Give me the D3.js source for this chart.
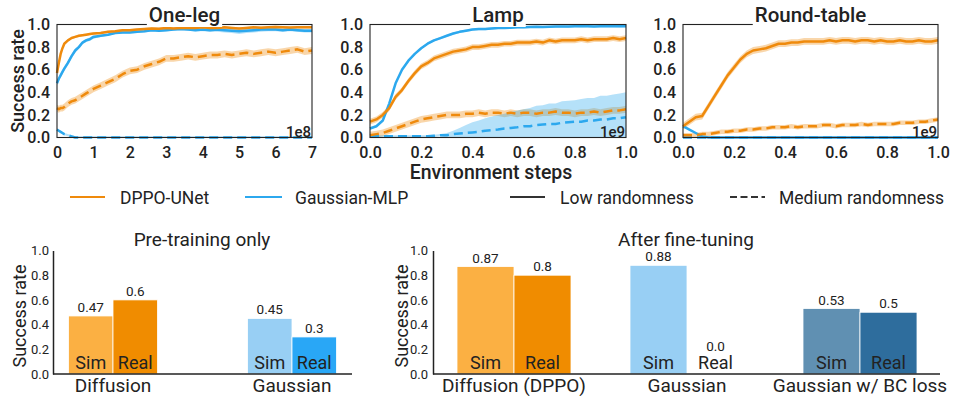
<!DOCTYPE html>
<html><head><meta charset="utf-8">
<script src="https://cdn.jsdelivr.net/npm/d3@7"></script>
<style>
body{margin:0;background:#fff}
text{font-family:Roboto,"Noto Sans",sans-serif;fill:#222}
</style>
</head><body>
<svg id="c" width="953" height="396"></svg>
<script>
// ---------------- DATA ----------------
// One-leg (x in units of 1e8 env steps)
const oneLegX = [0,0.05,0.1,0.15,0.2,0.3,0.4,0.5,0.6,0.7,0.8,0.9,1.0,1.2,1.4,1.6,1.8,2.0,2.2,2.4,2.6,2.8,3.0,3.2,3.4,3.6,3.8,4.0,4.2,4.4,4.6,4.8,5.0,5.2,5.4,5.6,5.8,6.0,6.2,6.4,6.6,6.8,7.0];
const oneLegDppoLow = [0.57,0.66,0.74,0.79,0.83,0.86,0.88,0.89,0.90,0.905,0.91,0.915,0.92,0.925,0.935,0.94,0.95,0.95,0.955,0.96,0.965,0.962,0.97,0.965,0.97,0.968,0.97,0.975,0.97,0.968,0.975,0.97,0.965,0.97,0.975,0.972,0.975,0.978,0.975,0.973,0.976,0.975,0.975];
const oneLegGaussLow = [0.48,0.52,0.55,0.58,0.61,0.66,0.72,0.77,0.80,0.84,0.86,0.87,0.89,0.90,0.91,0.925,0.93,0.93,0.935,0.94,0.95,0.945,0.95,0.955,0.96,0.955,0.95,0.955,0.95,0.955,0.95,0.945,0.94,0.945,0.95,0.955,0.955,0.955,0.95,0.955,0.95,0.945,0.945];
const oneLegGaussLowSpread = [0.02,0.02,0.02,0.02,0.02,0.02,0.02,0.02,0.015,0.015,0.015,0.015,0.015,0.01,0.01,0.01,0.01,0.01,0.01,0.01,0.01,0.01,0.01,0.01,0.01,0.01,0.01,0.015,0.015,0.02,0.02,0.02,0.025,0.02,0.02,0.02,0.015,0.015,0.015,0.015,0.015,0.015,0.015];
const oneLegDppoMed = [0.26,0.25,0.26,0.26,0.27,0.30,0.32,0.33,0.35,0.37,0.39,0.41,0.43,0.46,0.49,0.52,0.56,0.59,0.60,0.63,0.65,0.67,0.70,0.70,0.71,0.72,0.71,0.72,0.73,0.73,0.74,0.73,0.74,0.75,0.74,0.75,0.76,0.75,0.76,0.77,0.78,0.76,0.77];
const oneLegGaussMed = [0.07,0.06,0.05,0.04,0.03,0.02,0.01,0,0,0,0,0,0,0,0,0,0,0,0,0,0,0,0,0,0,0,0,0,0,0,0,0,0,0,0,0,0,0,0,0,0,0,0];

// Lamp and Round-table (x in units of 1e9 env steps)
const unitX = [0,0.025,0.05,0.075,0.1,0.125,0.15,0.175,0.2,0.225,0.25,0.275,0.3,0.325,0.35,0.375,0.4,0.425,0.45,0.475,0.5,0.525,0.55,0.575,0.6,0.625,0.65,0.675,0.7,0.725,0.75,0.775,0.8,0.825,0.85,0.875,0.9,0.925,0.95,0.975,1.0];
const lampGaussLow = [0.08,0.10,0.15,0.30,0.48,0.60,0.68,0.74,0.79,0.83,0.86,0.88,0.90,0.92,0.935,0.945,0.955,0.96,0.96,0.965,0.97,0.97,0.972,0.975,0.975,0.978,0.98,0.978,0.98,0.982,0.983,0.982,0.985,0.984,0.985,0.983,0.985,0.986,0.985,0.984,0.985];
const lampDppoLow = [0.14,0.16,0.20,0.26,0.36,0.42,0.50,0.57,0.63,0.66,0.70,0.72,0.74,0.76,0.77,0.78,0.80,0.80,0.81,0.82,0.82,0.83,0.83,0.84,0.84,0.84,0.85,0.84,0.86,0.85,0.86,0.86,0.86,0.87,0.86,0.87,0.87,0.87,0.88,0.87,0.88];
const lampDppoMed = [0.02,0.03,0.04,0.06,0.08,0.10,0.12,0.14,0.16,0.17,0.18,0.19,0.20,0.20,0.20,0.21,0.21,0.22,0.21,0.22,0.22,0.21,0.22,0.21,0.22,0.22,0.21,0.22,0.22,0.23,0.22,0.22,0.21,0.22,0.22,0.23,0.22,0.23,0.24,0.24,0.25];
const lampGaussMed = [0.01,0.01,0.01,0.01,0.01,0.01,0.01,0.01,0.01,0.01,0.015,0.02,0.02,0.03,0.035,0.04,0.045,0.05,0.06,0.065,0.07,0.08,0.085,0.09,0.10,0.10,0.11,0.115,0.12,0.12,0.13,0.135,0.14,0.14,0.15,0.15,0.16,0.16,0.17,0.17,0.18];
const lampGaussMedSpread = [0.01,0.01,0.01,0.01,0.01,0.01,0.01,0.01,0.01,0.01,0.01,0.01,0.02,0.03,0.05,0.07,0.09,0.10,0.11,0.12,0.13,0.13,0.14,0.15,0.15,0.16,0.17,0.17,0.18,0.18,0.19,0.19,0.19,0.20,0.20,0.20,0.21,0.21,0.21,0.22,0.22];
const rtDppoLow = [0.10,0.14,0.18,0.19,0.28,0.37,0.46,0.55,0.62,0.69,0.74,0.77,0.78,0.79,0.81,0.83,0.83,0.84,0.84,0.85,0.85,0.85,0.85,0.86,0.85,0.86,0.86,0.85,0.86,0.86,0.85,0.86,0.85,0.85,0.86,0.85,0.85,0.86,0.85,0.85,0.86];
const rtDppoMed = [0.02,0.02,0.02,0.03,0.03,0.04,0.05,0.05,0.06,0.06,0.07,0.07,0.08,0.08,0.09,0.09,0.09,0.10,0.09,0.10,0.10,0.10,0.11,0.11,0.10,0.11,0.11,0.11,0.12,0.11,0.12,0.12,0.12,0.12,0.13,0.13,0.13,0.14,0.14,0.15,0.16];
const rtGaussLow = [0.10,0.07,0.04,0.01,0,0,0,0,0,0,0,0,0,0,0,0,0,0,0,0,0,0,0,0,0,0,0,0,0,0,0,0,0,0,0,0,0,0,0,0,0];
const rtGaussMed = [0,0,0,0,0,0,0,0,0,0,0,0,0,0,0,0,0,0,0,0,0,0,0,0,0,0,0,0,0,0,0,0,0,0,0,0,0,0,0,0,0];

const yTicks = [0,0.2,0.4,0.6,0.8,1.0];
const oneLegTicks = [0,1,2,3,4,5,6,7];
const unitTicks = [0,0.2,0.4,0.6,0.8,1.0];
const panelTitles = ["One-leg","Lamp","Round-table"];
const offsetLabels = ["1e8","1e9","1e9"];
const legendLabels = ["DPPO-UNet","Gaussian-MLP","Low randomness","Medium randomness"];

// Bar charts
const barKinds = ["Sim","Real"];
const preCats = ["Diffusion","Gaussian"];
const preSim = [0.47,0.45];
const preReal = [0.6,0.3];
const ftCats = ["Diffusion (DPPO)","Gaussian","Gaussian w/ BC loss"];
const ftSim = [0.87,0.88,0.53];
const ftReal = [0.8,0.0,0.5];

// ---------------- DRAWING ----------------
const ORANGE = "#EF8A0C", BLUE = "#2CA8EE";
const svg = d3.select("#c");
const sp = (s,j) => Array.isArray(s) ? s[j] : s;

const panels = [
  {title:panelTitles[0], xs:oneLegX, domain:[0,7], ticks:oneLegTicks, fmt:d3.format("d"), left:57, right:312, off:offsetLabels[0],
   series:[
     {v:oneLegDppoMed, s:0.03, c:ORANGE, dash:true},
     {v:oneLegDppoLow, s:0.01, c:ORANGE},
     {v:oneLegGaussMed, s:0.01, c:BLUE, dash:true},
     {v:oneLegGaussLow, s:oneLegGaussLowSpread, c:BLUE}]},
  {title:panelTitles[1], xs:unitX, domain:[0,1], ticks:unitTicks, fmt:d3.format(".1f"), left:370, right:626, off:offsetLabels[1],
   series:[
     {v:lampDppoMed, s:0.03, c:ORANGE, dash:true},
     {v:lampDppoLow, s:0.025, c:ORANGE},
     {v:lampGaussMed, s:lampGaussMedSpread, c:BLUE, dash:true},
     {v:lampGaussLow, s:0.01, c:BLUE}]},
  {title:panelTitles[2], xs:unitX, domain:[0,1], ticks:unitTicks, fmt:d3.format(".1f"), left:683, right:938, off:offsetLabels[2],
   series:[
     {v:rtDppoMed, s:0.02, c:ORANGE, dash:true},
     {v:rtDppoLow, s:0.03, c:ORANGE},
     {v:rtGaussMed, s:0, c:BLUE, dash:true},
     {v:rtGaussLow, s:0.005, c:BLUE}]}
];

const TOP = 24.5, BOT = 137.5;
panels.forEach((p,pi)=>{
  const x = d3.scaleLinear().domain(p.domain).range([p.left,p.right]);
  const y = d3.scaleLinear().domain([0,1]).range([BOT,TOP]);
  const g = svg.append("g");
  // bands
  p.series.forEach(s=>{
    const area = d3.area()
      .x((d,j)=>x(p.xs[j]))
      .y0((d,j)=>y(Math.max(0,d-sp(s.s,j))))
      .y1((d,j)=>y(Math.min(1,d+sp(s.s,j))));
    g.append("path").attr("d",area(s.v)).attr("fill",s.c).attr("fill-opacity",0.35).attr("stroke","none");
  });
  // lines (blue first, then orange on top)
  const order = [2,3,0,1];
  order.forEach(k=>{
    const s = p.series[k];
    const line = d3.line().x((d,j)=>x(p.xs[j])).y(d=>y(d));
    g.append("path").attr("d",line(s.v)).attr("fill","none").attr("stroke",s.c)
      .attr("stroke-width",2.5).attr("stroke-linejoin","round")
      .attr("stroke-dasharray", s.dash ? "9,5" : null);
  });
  // frame
  g.append("rect").attr("x",p.left).attr("y",TOP).attr("width",p.right-p.left).attr("height",BOT-TOP)
    .attr("fill","none").attr("stroke","#222").attr("stroke-width",1.1);
  // axes
  const ya = g.append("g").attr("transform",`translate(${p.left},0)`)
    .call(d3.axisLeft(y).tickValues(yTicks).tickFormat(d3.format(".1f")).tickSize(0).tickPadding(7));
  const xa = g.append("g").attr("transform",`translate(0,${BOT})`)
    .call(d3.axisBottom(x).tickValues(p.ticks).tickFormat(p.fmt).tickSize(0).tickPadding(9));
  [ya,xa].forEach(a=>{
    a.select(".domain").remove();
    a.selectAll("text").style("font-family","Roboto").style("font-size","16px").style("font-weight","500").attr("fill","#222");
  });
  // offset label
  g.append("text").attr("x",p.right-1).attr("y",BOT-0.5).attr("text-anchor","end")
    .style("font-size","15px").style("font-weight","500").text(p.off);
  // title with white background
  const tx = (p.left+p.right)/2;
  const t = g.append("text").attr("x",tx).attr("y",22).attr("text-anchor","middle")
    .style("font-size","20.5px").style("font-weight","500").text(p.title);
  const bb = t.node().getBBox();
  g.insert("rect", function(){ return t.node(); })
    .attr("x",bb.x-2).attr("y",bb.y).attr("width",bb.width+4).attr("height",bb.height).attr("fill","#fff");
  if(pi===0){
    g.append("text").attr("transform",`translate(24,${(TOP+BOT)/2}) rotate(-90)`).attr("text-anchor","middle")
      .style("font-size","18px").style("font-weight","500").text("Success rate");
  }
});

// x label
svg.append("text").attr("x",491).attr("y",179).attr("text-anchor","middle")
  .style("font-size","19.5px").style("font-weight","500").text("Environment steps");

// legend
const legendItems = [
  {x1:70,x2:105,tx:120,c:ORANGE,dash:null},
  {x1:245,x2:282,tx:295,c:BLUE,dash:null},
  {x1:510,x2:545,tx:560,c:"#333",dash:null},
  {x1:730,x2:765,tx:779,c:"#333",dash:"7,3.5"}
];
legendItems.forEach((L,i)=>{
  svg.append("line").attr("x1",L.x1).attr("x2",L.x2).attr("y1",197).attr("y2",197)
    .attr("stroke",L.c).attr("stroke-width",2).attr("stroke-dasharray",L.dash);
  svg.append("text").attr("x",L.tx).attr("y",203.5).style("font-size","17.5px").text(legendLabels[i]);
});

// ---------------- BAR CHARTS ----------------
function drawBars(cfg){
  const y = d3.scaleLinear().domain([0,1]).range([374,250.5]);
  const x = d3.scalePoint().domain(cfg.cats).range(cfg.centers);
  const inner = d3.scaleBand().domain(barKinds).range([-cfg.bw, cfg.bw]).padding(0);
  const g = svg.append("g");
  cfg.cats.forEach((c,i)=>{
    const vals = [cfg.sim[i], cfg.real[i]];
    barKinds.forEach((k,j)=>{
      const v = vals[j];
      const bx = x(c)+inner(k);
      g.append("rect").attr("x",bx).attr("y",y(v)).attr("width",inner.bandwidth()).attr("height",y(0)-y(v))
        .attr("fill",cfg.colors[i][j]).attr("stroke","#fff").attr("stroke-width",v>0?0.8:0);
      const cx = bx+inner.bandwidth()/2;
      g.append("text").attr("x",cx).attr("y",Math.min(y(v)-4, 351)).attr("text-anchor","middle")
        .style("font-size","13.5px").attr("fill","#333").text(v===0 ? "0.0" : String(v));
      g.append("text").attr("x",cx).attr("y",368.5).attr("text-anchor","middle")
        .style("font-size","18px").text(k);
    });
    g.append("text").attr("x",x(c)).attr("y",391.5).attr("text-anchor","middle")
      .style("font-size","19px").text(c);
  });
  const ya = g.append("g").attr("transform",`translate(${cfg.left},0)`)
    .call(d3.axisLeft(y).tickValues(yTicks).tickFormat(d3.format(".1f")).tickSize(0).tickPadding(cfg.pad));
  ya.select(".domain").attr("stroke","#222").attr("stroke-width",1.5);
  ya.selectAll("text").style("font-family","Roboto").style("font-size","13px").attr("fill","#222");
  g.append("line").attr("x1",cfg.left).attr("x2",cfg.right).attr("y1",374).attr("y2",374)
    .attr("stroke","#222").attr("stroke-width",1.5);
  g.append("text").attr("x",cfg.tx).attr("y",245.5).attr("text-anchor","middle")
    .style("font-size","19px").text(cfg.title);
  g.append("text").attr("transform",`translate(${cfg.ylx},316) rotate(-90)`).attr("text-anchor","middle")
    .style("font-size","18px").text("Success rate");
}

drawBars({cats:preCats, sim:preSim, real:preReal, centers:[113,292], bw:44.5, left:53, right:352, pad:4,
  colors:[["#FBB043","#F08C00"],["#98CFF4","#29A7F6"]], title:"Pre-training only", tx:202, ylx:26});
drawBars({cats:ftCats, sim:ftSim, real:ftReal, centers:[514,860], bw:57, left:433, right:940, pad:5,
  colors:[["#FBB043","#F08C00"],["#98CFF4","#29A7F6"],["#6090B2","#2E6D9D"]], title:"After fine-tuning", tx:686, ylx:408});
</script>
</body></html>
